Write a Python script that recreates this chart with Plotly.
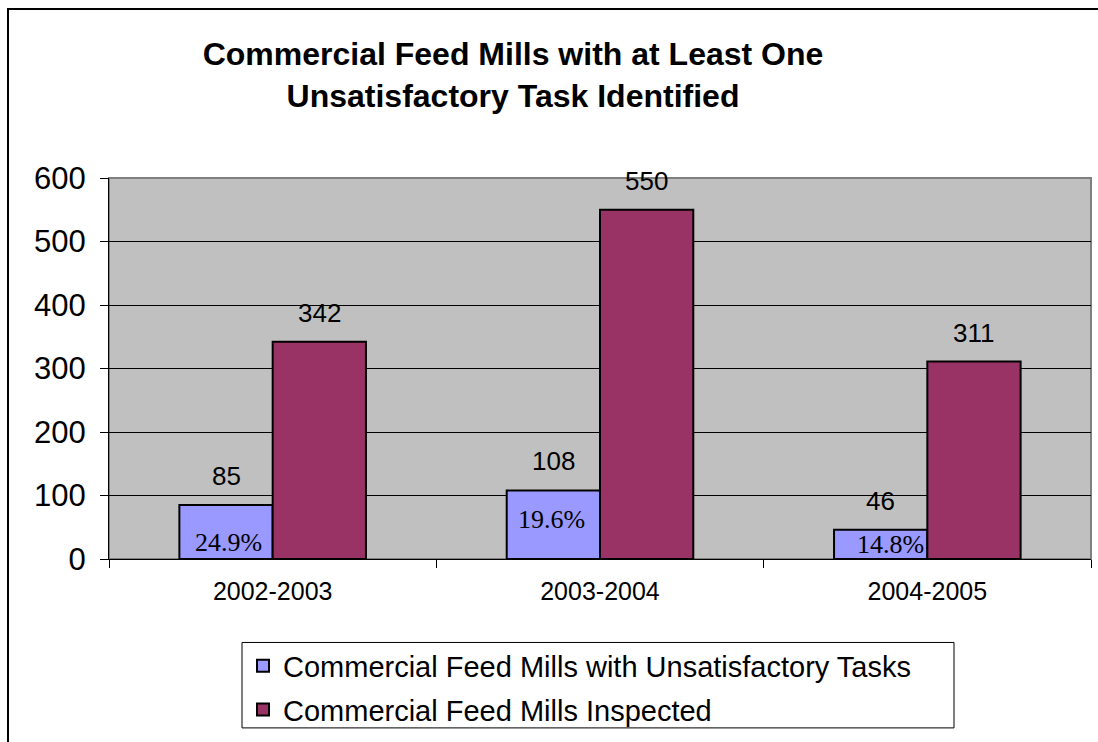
import plotly.graph_objects as go

# Inspection seasons and counts
seasons = ["2002-2003", "2003-2004", "2004-2005"]
unsatisfactory = [85, 108, 46]
inspected = [342, 550, 311]
series_names = ["Commercial Feed Mills with Unsatisfactory Tasks",
                "Commercial Feed Mills Inspected"]
y_ticks = [0, 100, 200, 300, 400, 500, 600]

# Share of inspected mills with an unsatisfactory task
pct_labels = [f"{u / i * 100:.1f}%" for u, i in zip(unsatisfactory, inspected)]

SANS = "Arial, Liberation Sans, sans-serif"
SERIF = "Times New Roman, Liberation Serif, serif"
BLUE = "#9999FF"
PLUM = "#993366"

W, H = 1098, 742
PLOT_L, PLOT_R = 109, 1091
PLOT_T, PLOT_B = 178, 566
plot_w = PLOT_R - PLOT_L
plot_h = PLOT_B - PLOT_T

bargap = 0.43
bar_w_px = plot_w / len(seasons) * (1 - bargap) / 2
offset_px = bar_w_px / 2

fig = go.Figure()
fig.add_trace(go.Bar(
    x=seasons, y=unsatisfactory, name=series_names[0], legendgroup="a",
    marker=dict(color=BLUE, line=dict(color="black", width=2)),
))
fig.add_trace(go.Bar(
    x=seasons, y=inspected, name=series_names[1], legendgroup="b",
    marker=dict(color=PLUM, line=dict(color="black", width=2)),
))

annotations = []
# value labels above each bar
for s, u, v in zip(seasons, unsatisfactory, inspected):
    annotations.append(dict(x=s, y=u, xref="x", yref="y", text=str(u),
                            showarrow=False, yanchor="bottom", yshift=12,
                            xshift=-offset_px,
                            font=dict(family=SANS, size=26, color="black")))
    annotations.append(dict(x=s, y=v, xref="x", yref="y", text=str(v),
                            showarrow=False, yanchor="bottom", yshift=12,
                            xshift=offset_px,
                            font=dict(family=SANS, size=26, color="black")))

# percentage notes inside the small bars
pct_y = [26, 63, 23]
pct_dx = [2, -2, 10]
for s, txt, py, dx in zip(seasons, pct_labels, pct_y, pct_dx):
    annotations.append(dict(x=s, y=py, xref="x", yref="y", text=txt,
                            showarrow=False, yanchor="middle",
                            xshift=-offset_px + dx,
                            font=dict(family=SERIF, size=26, color="black")))

def px_x(p):
    return (p - PLOT_L) / plot_w

def px_y(p):
    return (PLOT_B - p) / plot_h

shapes = [
    # outer chart frame (right and bottom sides run off the page)
    dict(type="rect", xref="paper", yref="paper",
         x0=px_x(8), x1=px_x(1300), y0=px_y(900), y1=px_y(6),
         line=dict(color="black", width=2), fillcolor="rgba(0,0,0,0)",
         layer="above"),
    # plot area border
    dict(type="rect", xref="paper", yref="paper", x0=0, x1=1, y0=0, y1=1,
         line=dict(color="#808080", width=2), fillcolor="rgba(0,0,0,0)",
         layer="below"),
    # legend frame
    dict(type="rect", xref="paper", yref="paper",
         x0=px_x(242), x1=px_x(954), y0=px_y(738), y1=px_y(651),
         line=dict(color="black", width=1), fillcolor="white",
         layer="below"),
]

fig.update_layout(
    width=W, height=H,
    margin=dict(l=PLOT_L, r=W - PLOT_R, t=PLOT_T, b=H - PLOT_B, pad=0),
    paper_bgcolor="white",
    plot_bgcolor="#C0C0C0",
    barmode="group",
    bargap=bargap,
    bargroupgap=0,
    title=dict(
        text="Commercial Feed Mills with at Least One<br>Unsatisfactory Task Identified",
        x=513 / W, xanchor="center", xref="container",
        y=1 - 65 / H, yanchor="middle", yref="container",
        font=dict(family=SANS, size=32, color="black", weight="bold"),
    ),
    xaxis=dict(
        type="category",
        showgrid=False,
        showline=True, linecolor="black", linewidth=1,
        ticks="outside", tickson="boundaries", ticklen=8,
        tickcolor="black", tickwidth=1,
        tickfont=dict(family=SANS, size=25, color="black"),
        ticklabelstandoff=10,
    ),
    yaxis=dict(
        range=[0, 600],
        tickvals=y_ticks,
        showgrid=True, gridcolor="black", gridwidth=1,
        zeroline=False,
        showline=True, linecolor="black", linewidth=1,
        ticks="outside", ticklen=8, tickcolor="black", tickwidth=1,
        tickfont=dict(family=SANS, size=31, color="black"),
        ticklabelstandoff=8,
    ),
    legend=dict(
        x=px_x(243), xanchor="left",
        y=px_y(649), yanchor="top",
        bgcolor="rgba(0,0,0,0)", borderwidth=0,
        font=dict(family=SANS, size=29, color="black"),
        traceorder="grouped",
        tracegroupgap=3,
    ),
    showlegend=True,
    annotations=annotations,
    shapes=shapes,
)

fig.write_html("out.html")
